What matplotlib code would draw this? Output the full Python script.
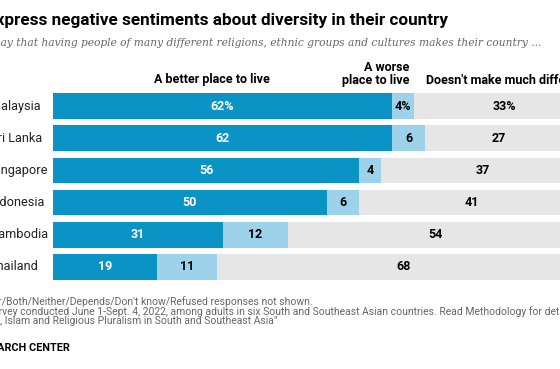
import matplotlib
matplotlib.use("Agg")
import matplotlib.pyplot as plt

plt.rcParams['font.family'] = ['Roboto', 'DejaVu Sans']

# data
countries = ['Malaysia', 'Sri Lanka', 'Singapore', 'Indonesia', 'Cambodia', 'Thailand']
better = [62, 62, 56, 50, 31, 19]
worse = [4, 6, 4, 6, 12, 11]
no_diff = [33, 27, 37, 41, 54, 68]

col_dark = '#0a93c4'
col_light = '#9dd2ea'
col_gray = '#e6e6e6'

W, H = 560, 369
fig = plt.figure(figsize=(W / 100, H / 100), dpi=100)

def fx(px):
    return px / W

def fy(py):
    return 1 - py / H

# axes runs past the right edge on purpose (the reference is a crop)
ax = fig.add_axes([fx(53), fy(283), fx(547), (283 - 90) / H])
ax.set_xlim(0, 100)
ax.set_ylim(len(countries) - 0.5, -0.5)
ax.axis('off')

ypos = range(len(countries))
ax.barh(ypos, better, height=0.8, color=col_dark)
ax.barh(ypos, worse, left=better, height=0.8, color=col_light)
left3 = [b + w for b, w in zip(better, worse)]
ax.barh(ypos, no_diff, left=left3, height=0.8, color=col_gray)

for i in ypos:
    sfx = '%' if i == 0 else ''
    ax.text(better[i] / 2, i, f'{better[i]}{sfx}', ha='center', va='center',
            color='white', fontsize=9, fontweight='bold')
    ax.text(better[i] + worse[i] / 2, i, f'{worse[i]}{sfx}', ha='center', va='center',
            color='black', fontsize=9, fontweight='bold')
    ax.text(left3[i] + no_diff[i] / 2, i, f'{no_diff[i]}{sfx}', ha='center', va='center',
            color='black', fontsize=9, fontweight='bold')
    # country names, cut off on the left like the reference
    ax.text(-63 / 547, i, countries[i], transform=ax.get_yaxis_transform(),
            ha='left', va='center', fontsize=9.2, color='#222222')

# title, subtitle (cropped on the left like the reference)
fig.text(fx(448), fy(20), 'Few express negative sentiments about diversity in their country',
         ha='right', va='center', fontsize=12.35, fontweight='bold', color='black')
fig.text(fx(541), fy(43),
         'Share who say that having people of many different religions, ethnic groups and cultures makes their country ...',
         ha='right', va='center', fontsize=7.68, style='italic', color='#666666',
         family=['DejaVu Serif'])

# column headers
fig.text(fx(212), fy(80), 'A better place to live', ha='center', va='center',
         fontsize=9, fontweight='bold')
fig.text(fx(409), fy(74), 'A worse\nplace to live', ha='right', va='center',
         fontsize=9, fontweight='bold', linespacing=1.05)
fig.text(fx(426), fy(80), "Doesn't make much difference", ha='left', va='center',
         fontsize=9, fontweight='bold')

# footer: note line ends at x=313, the others share its left edge
note = fig.text(fx(313), fy(302),
                "Note: Other/Both/Neither/Depends/Don't know/Refused responses not shown.",
                ha='right', va='center', fontsize=7.5, color='#666666')
fig.canvas.draw()
x0 = note.get_window_extent().x0 / W
fig.text(x0, fy(312),
         'Source: Survey conducted June 1-Sept. 4, 2022, among adults in six South and Southeast Asian countries. Read Methodology for details.',
         ha='left', va='center', fontsize=7.5, color='#666666')
fig.text(x0 + fx(1), fy(321), '"Buddhism, Islam and Religious Pluralism in South and Southeast Asia"',
         ha='left', va='center', fontsize=7.5, color='#666666')
fig.text(x0 - fx(3), fy(348), 'PEW RESEARCH CENTER', ha='left', va='center',
         fontsize=7.8, fontweight='bold', color='black')

fig.savefig('out.png', dpi=100)
